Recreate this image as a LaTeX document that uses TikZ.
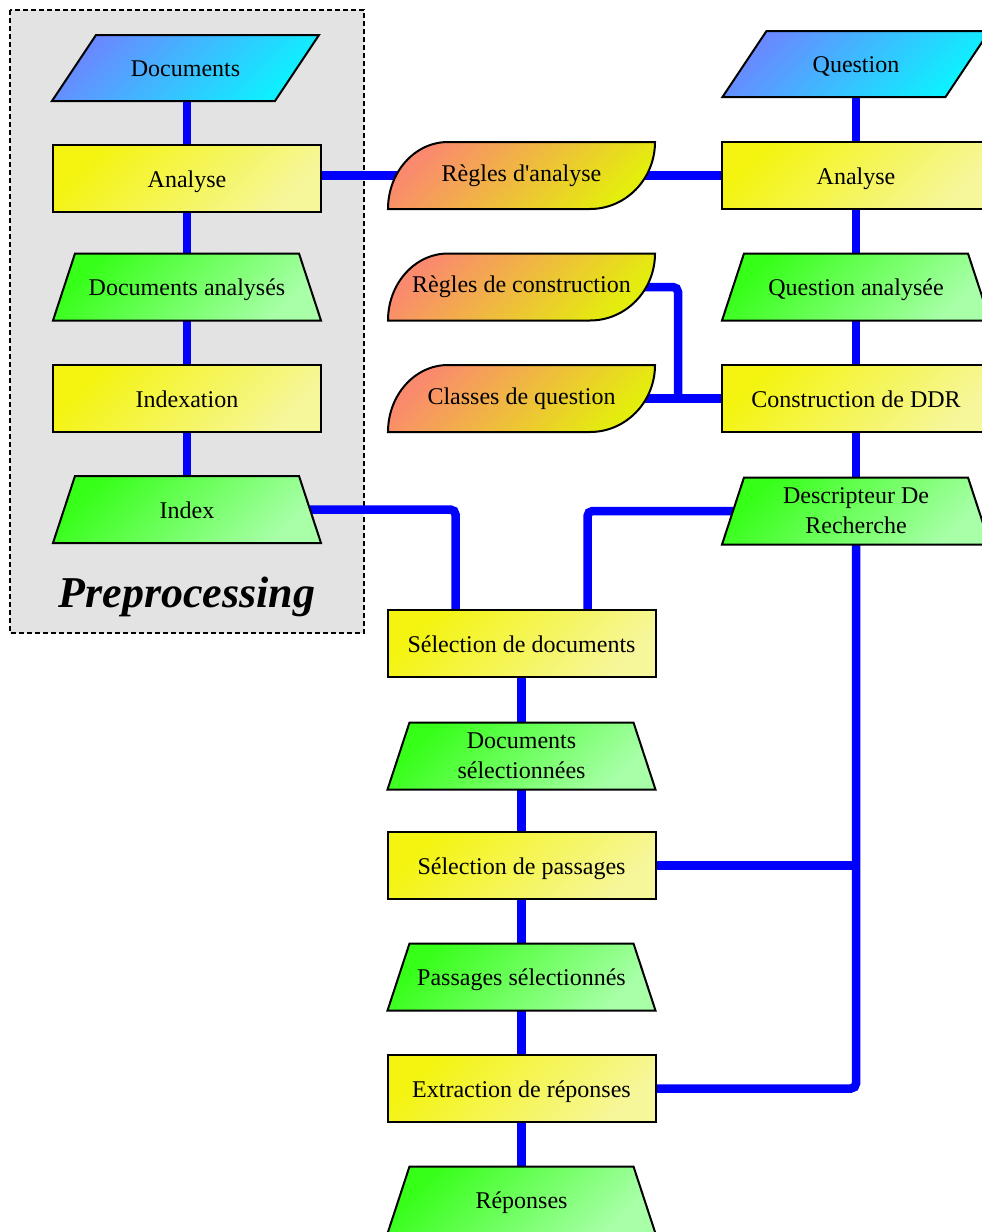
\documentclass[tikz,border=0pt]{standalone}
\usepackage{fontspec}
\setmainfont{Liberation Serif}
\pgfdeclarelayer{back}
\pgfdeclarelayer{wires}
\pgfdeclarelayer{shapes}
\pgfsetlayers{back,wires,shapes,main}

\definecolor{ylwA}{HTML}{F4F410}
\definecolor{ylwB}{HTML}{F6F69A}
\definecolor{grnA}{HTML}{36FF18}
\definecolor{grnB}{HTML}{A8FFA8}
\definecolor{bluA}{HTML}{6A88FF}
\definecolor{bluB}{HTML}{0CF2FF}
\definecolor{orgA}{HTML}{FA8A6E}
\definecolor{orgB}{HTML}{E4EE0C}
\definecolor{wireblue}{HTML}{0000FF}
\definecolor{boxgray}{HTML}{E3E3E3}

\tikzset{
  label text/.style={font=\fontsize{24}{30}\selectfont, text=black, align=center,
    inner sep=2pt, outer sep=0pt, text height=17pt, text depth=0pt},
  two lines/.style={text height=, text depth=},
  procbox/.style={label text, draw=black, line width=2pt, rectangle,
    minimum width=268pt, minimum height=67pt,
    top color=ylwA, bottom color=ylwB, shading angle=45},
  slot/.style={label text, rectangle, minimum width=268pt, minimum height=67pt},
  shapeline/.style={draw=black, line width=2pt, line join=miter},
  datafill/.style={shapeline, top color=grnA, bottom color=grnB, shading angle=45},
  inputfill/.style={shapeline, top color=bluA, bottom color=bluB, shading angle=45},
  rulefill/.style={shapeline, top color=orgA, bottom color=orgB, shading angle=45},
  wire/.style={draw=wireblue, line width=8.5pt, rounded corners=5pt},
  frame/.style={draw=black, line width=1.6pt, dash pattern=on 5pt off 3pt, fill=boxgray},
}

% data symbol (trapezoid, wide base): name, position, text, extra options
\newcommand\datanode[4][]{%
  \node[slot,#1] (#2) at (#3) {#4};
  \begin{pgfonlayer}{shapes}
    \path[datafill] (#2.south west) -- ([xshift=22pt]#2.north west)
      -- ([xshift=-22pt]#2.north east) -- (#2.south east) -- cycle;
  \end{pgfonlayer}}

% input symbol (parallelogram): name, position, text
\newcommand\inputnode[3]{%
  \node[slot, minimum width=267pt, minimum height=66pt] (#1) at (#2) {#3};
  \begin{pgfonlayer}{shapes}
    \path[inputfill] (#1.south west) -- ([xshift=44pt]#1.north west)
      -- (#1.north east) -- ([xshift=-44pt]#1.south east) -- cycle;
  \end{pgfonlayer}}

% stored-data symbol: name, position, text
\newcommand\storednode[3]{%
  \node[slot, minimum width=267pt, text height=, text depth=] (#1) at (#2) {#3};
  \begin{pgfonlayer}{shapes}
    \path[rulefill] (#1.south west)
      arc[start angle=180, end angle=90, x radius=60pt, y radius=67pt]
      -- (#1.north east)
      arc[start angle=0, end angle=-90, x radius=65pt, y radius=67pt]
      -- cycle;
  \end{pgfonlayer}}

\begin{document}
\begin{tikzpicture}[x=1pt, y=1pt]
\useasboundingbox (0,0) rectangle (982,-1232);

% preprocessing frame
\begin{pgfonlayer}{back}
  \path[frame] (10,-10) rectangle (364,-633);
\end{pgfonlayer}
\node[font=\fontsize{44}{52}\selectfont\bfseries\itshape] (pre) at (187,-597) {Preprocessing};

% left column
\inputnode{docL}{185.5,-68}{Documents}
\node[procbox] (anL) at (187,-178.5) {Analyse};
\datanode{daL}{187,-287}{Documents analysés}
\node[procbox] (ixn) at (187,-398.5) {Indexation};
\datanode{idx}{187,-509.5}{Index}

% resources
\storednode{ra}{521.5,-175.5}{Règles d\textquotesingle analyse}
\storednode{rc}{521.5,-287}{Règles de construction}
\storednode{cq}{521.5,-398.5}{Classes de question}

% right column
\inputnode{qst}{856,-64}{Question}
\node[procbox] (anR) at (856,-175.5) {Analyse};
\datanode{qa}{856,-287}{Question analysée}
\node[procbox] (cdd) at (856,-398.5) {Construction de DDR};
\datanode[two lines]{ddr}{856,-511}{Descripteur De\\Recherche}

% middle column
\node[procbox] (sd) at (521.5,-643.5) {Sélection de documents};
\datanode[two lines]{ds}{521.5,-756}{Documents\\sélectionnées}
\node[procbox] (sp) at (521.5,-865.5) {Sélection de passages};
\datanode{ps}{521.5,-977}{Passages sélectionnés}
\node[procbox] (ex) at (521.5,-1088.5) {Extraction de réponses};
\datanode{rep}{521.5,-1200}{Réponses}

\coordinate (jc) at (678,-398.5);

% connectors
\begin{pgfonlayer}{wires}
  \draw[wire] (anL.center |- docL.center) -- (anL.center);
  \draw[wire] (anL.center) -- (daL.center);
  \draw[wire] (daL.center) -- (ixn.center);
  \draw[wire] (ixn.center) -- (idx.center);

  \draw[wire] (ra.center -| anL.center) -- (ra.center);
  \draw[wire] (ra.center) -- (anR.center);
  \draw[wire] (rc.center) -| (jc);
  \draw[wire] (cq.center) -- (cdd.center);

  \draw[wire] (qst.center) -- (anR.center);
  \draw[wire] (anR.center) -- (qa.center);
  \draw[wire] (qa.center) -- (cdd.center);
  \draw[wire] (cdd.center) -- (ddr.center);

  \draw[wire] (idx.center) -| ([xshift=-66pt]sd.north);
  \draw[wire] (ddr.center) -| ([xshift=66pt]sd.north);

  \draw[wire] (sd.center) -- (ds.center);
  \draw[wire] (ds.center) -- (sp.center);
  \draw[wire] (sp.center) -- (ps.center);
  \draw[wire] (ps.center) -- (ex.center);
  \draw[wire] (ex.center) -- (rep.center);

  \draw[wire] (ddr.center) |- (ex.center);
  \draw[wire] (sp.center) -- (sp.center -| ddr.center);
\end{pgfonlayer}
\end{tikzpicture}
\end{document}
